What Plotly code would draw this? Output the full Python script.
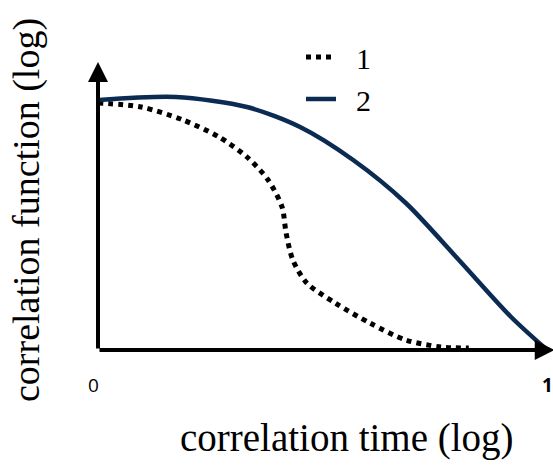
import plotly.graph_objects as go

# Data (normalized log-axes, 0..1)
x1 = [0.0, 0.096, 0.189, 0.269, 0.331, 0.378, 0.409, 0.418, 0.433, 0.464, 0.527, 0.604, 0.684, 0.762, 0.824]
y1 = [0.988, 0.972, 0.92, 0.852, 0.772, 0.68, 0.572, 0.468, 0.36, 0.268, 0.188, 0.108, 0.04, 0.012, 0.008]

x2 = [0.002, 0.173, 0.331, 0.449, 0.567, 0.684, 0.802, 0.918, 0.998]
y2 = [1.0, 1.012, 0.972, 0.892, 0.76, 0.588, 0.36, 0.132, 0.0]

names = ["1", "2"]
tick_labels = ["0", "1"]
x_title = "correlation time (log)"
y_title = "correlation function (log)"

serif = "Palatino Linotype, Book Antiqua, Liberation Serif, DejaVu Serif, serif"
sans = "Open Sans, DejaVu Sans, sans-serif"
navy = "#0c2b52"

# pixel geometry of plot area
L, R, T, B = 98, 5, 30, 116
W, H = 553, 466
pw, ph = W - L - R, H - T - B
y_top = 1.28


def px_x(px):
    return (px - L) / pw


def px_y(py):
    return (H - B - py) / ph


fig = go.Figure()
fig.add_trace(go.Scatter(x=x1, y=y1, mode="lines", name="  " + names[0],
                         line=dict(color="black", width=5, dash="dot", shape="spline", smoothing=0.8)))
fig.add_trace(go.Scatter(x=x2, y=y2, mode="lines", name="  " + names[1],
                         line=dict(color=navy, width=4.5, shape="spline", smoothing=0.8)))

# axis arrows
fig.add_annotation(x=0, y=1.152, ax=0, ay=0, xref="x", yref="y", axref="x", ayref="y",
                   showarrow=True, arrowhead=2, arrowsize=1, arrowwidth=4, arrowcolor="black", text="")
fig.add_annotation(x=1.015, y=0, ax=0, ay=0, xref="x", yref="y", axref="x", ayref="y",
                   showarrow=True, arrowhead=2, arrowsize=1, arrowwidth=4, arrowcolor="black", text="")

# tick labels
fig.add_annotation(x=0, y=0, xref="x", yref="y", text=tick_labels[0], showarrow=False,
                   xshift=-5, yshift=-35, font=dict(family=sans, size=19, color="black"))
fig.add_annotation(x=1, y=0, xref="x", yref="y", text="<b>" + tick_labels[1] + "</b>", showarrow=False,
                   xshift=-1, yshift=-35, font=dict(family=sans, size=19, color="black"))

# titles
fig.add_annotation(x=px_x(347), y=px_y(438), xref="paper", yref="paper", text=x_title,
                   showarrow=False, xanchor="center", yanchor="middle",
                   font=dict(family=serif, size=39, color="black"))
fig.add_annotation(x=px_x(26), y=px_y(210), xref="paper", yref="paper", text=y_title,
                   showarrow=False, textangle=-90, xanchor="center", yanchor="middle",
                   font=dict(family=serif, size=38, color="black"))

fig.update_layout(
    width=W, height=H,
    margin=dict(l=L, r=R, t=T, b=B, autoexpand=False),
    plot_bgcolor="white", paper_bgcolor="white",
    xaxis=dict(range=[0, 1], visible=False),
    yaxis=dict(range=[0, y_top], visible=False),
    showlegend=True,
    legend=dict(x=px_x(301), y=px_y(31), xanchor="left", yanchor="top",
                font=dict(family=serif, size=30, color="black"),
                bgcolor="rgba(0,0,0,0)", tracegroupgap=0, itemwidth=30),
)

fig.write_html("out.html", config={"displayModeBar": False},
               post_script="document.body.style.margin='0';")
